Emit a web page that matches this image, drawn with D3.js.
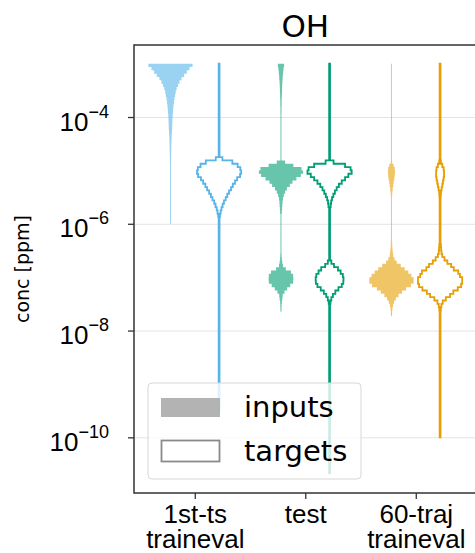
<!DOCTYPE html>
<html>
<head>
<meta charset="utf-8">
<script src="https://cdn.jsdelivr.net/npm/d3@7"></script>
<style>
body { margin: 0; background: #fff; }
svg { font-family: "DejaVu Sans", sans-serif; }
</style>
</head>
<body>
<div id="chart"></div>
<script>
// OH concentration distributions, inputs vs targets, per dataset
var categories = [["1st-ts", "traineval"], ["test"], ["60-traj", "traineval"]];
var colors = ["#56B4E9", "#009E73", "#E69F00"];
var yTicks = [1e-4, 1e-6, 1e-8, 1e-10];

// histogram bins in log10(ppm), counted downward from binTop
var binTop = -3.0;
var binSize = 0.0625;

// [top, bottom] of each violin, log10(ppm)
var inputsRange = [[-3.0, -6.0], [-3.0, -7.65], [-3.0, -7.73]];
var targetsRange = [[-3.0, -9.5], [-3.0, -10.67], [-3.0, -10.0]];

// runs of [first bin, relative widths]
var inputsBins = [
    [[0, [1.0, 0.86, 0.74, 0.62, 0.5, 0.41, 0.34, 0.28, 0.24, 0.21, 0.18, 0.16, 0.14, 0.125, 0.115,
          0.1, 0.09, 0.085, 0.08, 0.075, 0.065, 0.055, 0.05, 0.045, 0.04, 0.036, 0.033, 0.03, 0.028, 0.026]]],
    [[0, [0.14, 0.12, 0.1, 0.085, 0.075, 0.065, 0.055, 0.05, 0.045, 0.04, 0.035, 0.03, 0.03, 0.025, 0.025]],
     [29, [0.19, 0.56, 0.93, 1.0, 0.9, 0.7, 0.52, 0.4, 0.27, 0.19, 0.13, 0.09, 0.07, 0.06, 0.05, 0.04]],
     [57, [0.03, 0.04, 0.06, 0.09, 0.22, 0.45, 0.55, 0.56, 0.55, 0.42, 0.28, 0.16, 0.08, 0.06, 0.04, 0.03, 0.025]]],
    [[29, [0.03, 0.1, 0.15, 0.16, 0.15, 0.13, 0.1, 0.08, 0.06, 0.04, 0.03]],
     [53, [0.03, 0.035, 0.045, 0.06, 0.08, 0.14, 0.24, 0.42, 0.6, 0.76, 0.9, 1.0, 1.0, 0.88, 0.66,
           0.48, 0.32, 0.2, 0.12, 0.07, 0.04, 0.03, 0.025]]]
];
var targetsBins = [
    [[28, [0.15, 0.6, 0.84, 0.96, 1.0, 0.95, 0.82, 0.72, 0.62, 0.54, 0.45, 0.37, 0.3, 0.22, 0.16,
           0.11, 0.07, 0.04]]],
    [[29, [0.18, 0.7, 0.95, 1.0, 0.85, 0.7, 0.55, 0.42, 0.32, 0.24, 0.17, 0.11, 0.07, 0.05]],
     [59, [0.08, 0.2, 0.38, 0.5, 0.6, 0.63, 0.62, 0.55, 0.4, 0.26, 0.15, 0.08, 0.04]]],
    [[29, [0.04, 0.1, 0.16, 0.18, 0.18, 0.16, 0.13, 0.1, 0.07, 0.04, 0.03]],
     [54, [0.035, 0.045, 0.06, 0.1, 0.2, 0.33, 0.5, 0.62, 0.82, 0.9, 1.0, 1.0, 0.95, 0.8, 0.6,
           0.45, 0.26, 0.12, 0.06, 0.035]]]
];

var width = 475, height = 553;
var margin = {left: 134, top: 45, bottom: 60};
var offset = 0.22;      // inputs left, targets right of the tick
var halfWidth = 0.2;    // widest bin, x units

var svg = d3.select("#chart")
    .append("svg")
    .attr("width", width)
    .attr("height", height);

var x = d3.scaleLinear()
    .domain([-0.55, 2.55])
    .range([margin.left, margin.left + 3.1 * 110.5]);
var y = d3.scaleLog()
    .domain([Math.pow(10, -11.043), Math.pow(10, -2.651)])
    .range([height - margin.bottom, margin.top]);

var x0 = x.range()[0], x1 = x.range()[1];
var y0 = y.range()[0], y1 = y.range()[1];

// Gridlines
svg.append("g")
    .attr("transform", "translate(" + x0 + ",0)")
    .call(d3.axisLeft(y).tickValues(yTicks).tickSize(-(x1 - x0)).tickFormat(""))
    .call(function (g) {
        g.select(".domain").remove();
        g.selectAll(".tick line").attr("stroke", "#e3e3e3").attr("stroke-width", 1);
    });

// Violins
function violinPath(cx, range, runs, minHalf) {
    var w = {};
    runs.forEach(function (r) {
        r[1].forEach(function (v, i) { w[r[0] + i] = v; });
    });
    var kFirst = Math.round((binTop - range[0]) / binSize);
    var kLast = Math.ceil((binTop - range[1]) / binSize - 1e-9) - 1;
    var right = [], left = [];
    for (var k = kFirst; k <= kLast; k++) {
        var lTop = binTop - k * binSize;
        var lBot = Math.max(binTop - (k + 1) * binSize, range[1]);
        var v = Math.max(w[k] || 0, minHalf) * halfWidth;
        right.push([cx + v, lTop], [cx + v, lBot]);
        left.push([cx - v, lTop], [cx - v, lBot]);
    }
    var pts = right.concat(left.reverse());
    return d3.line()
        .x(function (d) { return x(d[0]); })
        .y(function (d) { return y(Math.pow(10, d[1])); })(pts) + "Z";
}

categories.forEach(function (c, i) {
    svg.append("path")
        .attr("class", "violin inputs")
        .attr("d", violinPath(i - offset, inputsRange[i], inputsBins[i], 0.022))
        .attr("fill", colors[i])
        .attr("fill-opacity", 0.6)
        .attr("stroke", "none");
    svg.append("path")
        .attr("class", "violin targets")
        .attr("d", violinPath(i + offset, targetsRange[i], targetsBins[i], 0.02))
        .attr("fill", "none")
        .attr("stroke", colors[i])
        .attr("stroke-width", 1.8)
        .attr("stroke-linejoin", "miter");
});

// Y axis
var yAxis = svg.append("g")
    .attr("transform", "translate(" + x0 + ",0)")
    .call(d3.axisLeft(y).tickValues(yTicks).tickSize(6).tickFormat(""));
yAxis.select(".domain").remove();
yAxis.selectAll(".tick line").attr("stroke", "#333").attr("stroke-width", 1.3);
var yLab = yAxis.selectAll(".tick")
    .append("text")
    .attr("fill", "#000")
    .attr("text-anchor", "end")
    .attr("x", -25)
    .attr("y", 13)
    .style("font-size", "26px");
yLab.append("tspan").text("10");
yLab.append("tspan")
    .attr("dy", -13)
    .style("font-size", "18px")
    .text(function (d) { return "\u2212" + Math.round(-Math.log10(d)); });

// X axis
var xAxis = svg.append("g")
    .attr("transform", "translate(0," + y0 + ")")
    .call(d3.axisBottom(x).tickValues([0, 1, 2]).tickSize(6).tickFormat(""));
xAxis.select(".domain").remove();
xAxis.selectAll(".tick line").attr("stroke", "#333").attr("stroke-width", 1.3);
xAxis.selectAll(".tick")
    .append("text")
    .attr("fill", "#000")
    .attr("text-anchor", "middle")
    .style("font-size", "26px")
    .selectAll("tspan")
    .data(function (d) { return categories[d]; })
    .enter()
    .append("tspan")
    .attr("x", 0)
    .attr("y", function (d, j) { return 30 + j * 24.5; })
    .text(function (d) { return d; });

// Spines
svg.append("rect")
    .attr("x", x0)
    .attr("y", y1)
    .attr("width", x1 - x0)
    .attr("height", y0 - y1)
    .attr("fill", "none")
    .attr("stroke", "#333")
    .attr("stroke-width", 1.5);

// Title and label
svg.append("text")
    .attr("x", (x0 + x1) / 2)
    .attr("y", 37)
    .attr("text-anchor", "middle")
    .style("font-size", "31px")
    .text("OH");

svg.append("text")
    .attr("transform", "translate(29," + (y0 + y1) / 2 + ") rotate(-90)")
    .attr("text-anchor", "middle")
    .style("font-size", "19px")
    .text("conc [ppm]");

// Legend
var legend = svg.append("g")
    .attr("class", "legend")
    .attr("transform", "translate(148,383)");
legend.append("rect")
    .attr("width", 213)
    .attr("height", 96)
    .attr("rx", 4)
    .attr("fill", "#fff")
    .attr("fill-opacity", 0.8)
    .attr("stroke", "#d6d6d6")
    .attr("stroke-width", 1);
legend.append("rect")
    .attr("x", 13)
    .attr("y", 15)
    .attr("width", 59)
    .attr("height", 19)
    .attr("fill", "#b3b3b3");
legend.append("rect")
    .attr("x", 13.5)
    .attr("y", 57.5)
    .attr("width", 58)
    .attr("height", 21)
    .attr("fill", "none")
    .attr("stroke", "#8a8a8a")
    .attr("stroke-width", 1.8);
legend.append("text")
    .attr("x", 96)
    .attr("y", 34)
    .style("font-size", "29px")
    .text("inputs");
legend.append("text")
    .attr("x", 96)
    .attr("y", 78)
    .style("font-size", "29px")
    .text("targets");
</script>
</body>
</html>
